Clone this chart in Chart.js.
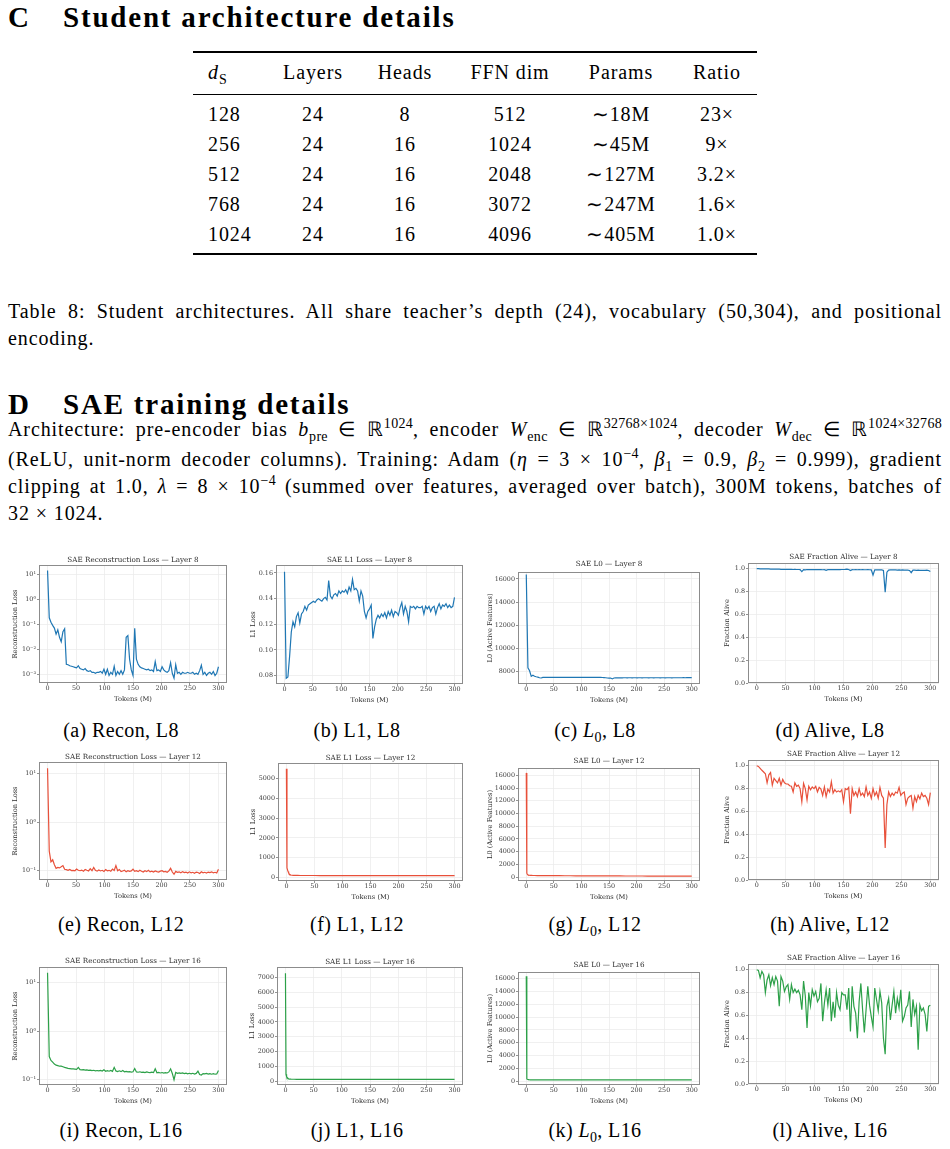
<!DOCTYPE html>
<html>
<head>
<meta charset="utf-8">
<title>SAE training details</title>
<script src="https://cdn.jsdelivr.net/npm/chart.js@4.4.0/dist/chart.umd.min.js"></script>
<style>
  html, body { margin: 0; padding: 0; background: #fff; }
  body { position: relative; width: 950px; height: 1149px; overflow: hidden; font-family: "Liberation Serif", "Times New Roman", serif; color: #000; }
  .abs { position: absolute; white-space: nowrap; }
  .heading { font-weight: bold; font-size: 29px; line-height: 32px; letter-spacing: 1.8px; }
  .txt { font-size: 20px; line-height: 24px; letter-spacing: 0.9px; }
  .line { position: absolute; left: 8px; width: 934px; font-size: 20px; line-height: 24px; letter-spacing: 0.9px; text-align: justify; text-align-last: justify; }
  .line.last { text-align-last: left; }
  .cell { width: 140px; text-align: center; }
  .rule { position: absolute; left: 193px; width: 564px; background: #000; }
  .subcap { width: 220px; text-align: center; letter-spacing: 0.4px; }
  sup, sub { font-size: 70%; line-height: 0; letter-spacing: 0.3px; }
  canvas { position: absolute; }
</style>
</head>
<body>
<div class="abs heading" style="left:8px; top:1px;">C</div>
<div class="abs heading" style="left:63px; top:1px;">Student architecture details</div>

<div class="rule" style="top:51px; height:2px;"></div>
<div class="rule" style="top:94px; height:1px;"></div>
<div class="rule" style="top:253px; height:2px;"></div>
<div id="table"></div>

<div class="line" style="top:299px;">Table 8: Student architectures. All share teacher’s depth (24), vocabulary (50,304), and positional</div>
<div class="line last" style="top:326px;">encoding.</div>

<div class="abs heading" style="left:8px; top:388px;">D</div>
<div class="abs heading" style="left:63px; top:388px;">SAE training details</div>

<div class="line" style="top:417px;">Architecture: pre-encoder bias <i>b</i><sub>pre</sub> ∈ ℝ<sup>1024</sup>, encoder <i>W</i><sub>enc</sub> ∈ ℝ<sup>32768×1024</sup>, decoder <i>W</i><sub>dec</sub> ∈ ℝ<sup>1024×32768</sup></div>
<div class="line" style="top:447px;">(ReLU, unit-norm decoder columns). Training: Adam (<i>η</i> = 3 × 10<sup>−4</sup>, <i>β</i><sub>1</sub> = 0.9, <i>β</i><sub>2</sub> = 0.999), gradient</div>
<div class="line" style="top:474px;">clipping at 1.0, <i>λ</i> = 8 × 10<sup>−4</sup> (summed over features, averaged over batch), 300M tokens, batches of</div>
<div class="line last" style="top:501px;">32 × 1024.</div>

<div id="captions"></div>

<script>
// ---- table 8 ----
const colHead = ["<i>d</i><sub>S</sub>", "Layers", "Heads", "FFN dim", "Params", "Ratio"];
const dS = ["128", "256", "512", "768", "1024"];
const layers = ["24", "24", "24", "24", "24"];
const heads = ["8", "16", "16", "16", "16"];
const ffnDim = ["512", "1024", "2048", "3072", "4096"];
const params = ["∼18M", "∼45M", "∼127M", "∼247M", "∼405M"];
const ratio = ["23×", "9×", "3.2×", "1.6×", "1.0×"];

// ---- training curves (x = tokens seen, in millions) ----
const tokens = [
  0, 3, 6, 9, 12, 15, 18, 21, 24, 27,
  30, 33, 36, 39, 42, 45, 48, 51, 54, 57,
  60, 63, 66, 69, 72, 75, 78, 81, 84, 87,
  90, 93, 96, 99, 102, 105, 108, 111, 114, 117,
  120, 123, 126, 129, 132, 135, 138, 141, 144, 147,
  150, 153, 156, 159, 162, 165, 168, 171, 174, 177,
  180, 183, 186, 189, 192, 195, 198, 201, 204, 207,
  210, 213, 216, 219, 222, 225, 228, 231, 234, 237,
  240, 243, 246, 249, 252, 255, 258, 261, 264, 267,
  270, 273, 276, 279, 282, 285, 288, 291, 294, 297,
  300
];
const tokensSparse = [
  0, 1, 2, 3, 4, 5, 6, 8, 10, 12,
  15, 20, 25, 30, 40, 50, 60, 70, 80, 90,
  100, 110, 120, 130, 140, 150, 160, 170, 180, 190,
  200, 210, 220, 230, 240, 250, 260, 270, 280, 290,
  300
];

const reconL8 = [
  14, 0.18, 0.12, 0.09, 0.07, 0.04, 0.06, 0.03, 0.02, 0.05,
  0.065, 0.0025, 0.0024, 0.0022, 0.0021, 0.002, 0.0019, 0.0018, 0.0022, 0.0017,
  0.0016, 0.0015, 0.0017, 0.0014, 0.0013, 0.0014, 0.0012, 0.0012, 0.0011, 0.0012,
  0.0012, 0.0013, 0.0011, 0.0016, 0.001, 0.0016, 0.0009, 0.0012, 0.001, 0.0021,
  0.0009, 0.0013, 0.001, 0.0014, 0.001, 0.0015, 0.03, 0.035, 0.004, 0.0015,
  0.0009, 0.068, 0.004, 0.0025, 0.002, 0.0018, 0.0017, 0.0016, 0.0015, 0.0016,
  0.0014, 0.0015, 0.0013, 0.0032, 0.0014, 0.0015, 0.0013, 0.002, 0.0015, 0.0013,
  0.0012, 0.0014, 0.0029, 0.0011, 0.0007, 0.0024, 0.0011, 0.0012, 0.001, 0.0012,
  0.0011, 0.0011, 0.0012, 0.0011, 0.0011, 0.0012, 0.001, 0.0011, 0.001, 0.0014,
  0.0023, 0.001, 0.0012, 0.0009, 0.0011, 0.0012, 0.001, 0.0013, 0.0009, 0.0011,
  0.002
];
const l1L8 = [
  0.161, 0.078, 0.079, 0.095, 0.114, 0.122, 0.118, 0.126, 0.129, 0.121,
  0.128, 0.130, 0.134, 0.131, 0.135, 0.136, 0.137, 0.138, 0.137, 0.139,
  0.140, 0.139, 0.138, 0.140, 0.141, 0.139, 0.154, 0.142, 0.140, 0.143,
  0.144, 0.142, 0.146, 0.144, 0.146, 0.145, 0.147, 0.144, 0.149, 0.146,
  0.155, 0.147, 0.148, 0.146, 0.138, 0.146, 0.142, 0.130, 0.125, 0.130,
  0.132, 0.135, 0.109, 0.118, 0.124, 0.127, 0.125, 0.128, 0.126, 0.129,
  0.125, 0.130, 0.127, 0.131, 0.126, 0.130, 0.129, 0.127, 0.133, 0.137,
  0.128, 0.134, 0.130, 0.122, 0.134, 0.133, 0.134, 0.132, 0.134, 0.133,
  0.133, 0.134, 0.128, 0.134, 0.132, 0.134, 0.130, 0.133, 0.134, 0.128,
  0.133, 0.136, 0.132, 0.135, 0.134, 0.136, 0.133, 0.135, 0.133, 0.134,
  0.141
];
const l0L8 = [
  16384, 8300, 8050, 7560, 7660, 7570, 7530, 7500, 7440, 7420,
  7470, 7475, 7470, 7468, 7472, 7470, 7468, 7471, 7470, 7469,
  7470, 7468, 7471, 7470, 7469, 7470, 7468, 7472, 7470, 7469,
  7470, 7471, 7469, 7470, 7468, 7470, 7471, 7469, 7470, 7468,
  7470, 7469, 7470, 7468, 7470, 7467, 7465, 7455, 7440, 7420,
  7410, 7420, 7340, 7420, 7430, 7440, 7436, 7440, 7438, 7441,
  7440, 7438, 7441, 7440, 7438, 7440, 7442, 7439, 7440, 7441,
  7439, 7440, 7442, 7440, 7438, 7440, 7441, 7439, 7440, 7442,
  7440, 7439, 7441, 7440, 7438, 7440, 7442, 7440, 7439, 7441,
  7440, 7442, 7441, 7443, 7442, 7444, 7443, 7445, 7446, 7445,
  7450
];
const aliveL8 = [
  1.0, 1.0, 0.999, 0.999, 0.999, 0.998, 0.998, 0.998, 0.997, 0.997,
  0.997, 0.996, 0.996, 0.996, 0.995, 0.995, 0.995, 0.994, 0.995, 0.994,
  0.994, 0.993, 0.994, 0.993, 0.993, 0.992, 0.975, 0.992, 0.99, 0.993,
  0.992, 0.993, 0.992, 0.993, 0.992, 0.993, 0.992, 0.992, 0.991, 0.992,
  0.986, 0.992, 0.993, 0.992, 0.993, 0.992, 0.993, 0.992, 0.992, 0.993,
  0.993, 0.994, 0.996, 0.993, 0.984, 0.992, 0.991, 0.992, 0.991, 0.992,
  0.991, 0.992, 0.991, 0.991, 0.992, 0.991, 0.99, 0.945, 0.99, 0.99,
  0.991, 0.99, 0.99, 0.985, 0.795, 0.97, 0.988, 0.99, 0.989, 0.99,
  0.989, 0.988, 0.989, 0.988, 0.989, 0.988, 0.987, 0.988, 0.985, 0.965,
  0.987, 0.987, 0.986, 0.987, 0.986, 0.986, 0.985, 0.986, 0.988, 0.984,
  0.975
];

const reconL12 = [
  13, 0.25, 0.15, 0.165, 0.13, 0.11, 0.115, 0.112, 0.118, 0.125,
  0.105, 0.103, 0.1, 0.104, 0.099, 0.1, 0.098, 0.106, 0.1, 0.098,
  0.101, 0.096, 0.104, 0.1, 0.097, 0.108, 0.098, 0.115, 0.1, 0.096,
  0.102, 0.097, 0.1, 0.095, 0.104, 0.098, 0.1, 0.096, 0.106, 0.099,
  0.125, 0.098, 0.104, 0.094, 0.097, 0.1, 0.093, 0.098, 0.095, 0.097,
  0.106, 0.095, 0.098, 0.094, 0.1, 0.096, 0.092, 0.098, 0.094, 0.1,
  0.093, 0.096, 0.092, 0.097, 0.094, 0.092, 0.096, 0.098, 0.093, 0.095,
  0.091, 0.097, 0.11, 0.092, 0.083, 0.095, 0.091, 0.093, 0.089, 0.094,
  0.09, 0.092, 0.088, 0.093, 0.089, 0.091, 0.087, 0.092, 0.09, 0.086,
  0.093, 0.089, 0.091, 0.088, 0.092, 0.09, 0.093, 0.089, 0.091, 0.088,
  0.105
];
const l1L12 = [
  5500, 480, 380, 290, 220, 175, 145, 118, 106, 100,
  97, 95, 94, 93, 92, 92, 91, 91, 90, 90,
  90, 89, 89, 89, 89, 88, 88, 88, 88, 88,
  87, 87, 87, 87, 87, 87, 86, 86, 86, 86,
  86
];
const l0L12 = [
  16384, 620, 430, 360, 325, 305, 292, 280, 272, 266,
  260, 255, 250, 246, 240, 235, 230, 226, 222, 218,
  214, 210, 206, 203, 200, 197, 194, 191, 189, 187,
  185, 183, 181, 179, 177, 175, 174, 173, 172, 171,
  170
];
const aliveL12 = [
  1.0, 0.994, 0.977, 0.96, 0.945, 0.93, 0.85, 0.92, 0.94, 0.83,
  0.89, 0.87, 0.85, 0.89, 0.83, 0.88, 0.85, 0.84, 0.84, 0.825,
  0.82, 0.77, 0.85, 0.82, 0.83, 0.8, 0.685, 0.845, 0.8, 0.7,
  0.82, 0.79, 0.815, 0.8, 0.82, 0.77, 0.81, 0.795, 0.74, 0.815,
  0.73, 0.795, 0.77, 0.86, 0.76, 0.79, 0.77, 0.78, 0.77, 0.79,
  0.685, 0.8, 0.79, 0.81, 0.58, 0.8, 0.74, 0.77, 0.73, 0.8,
  0.74, 0.76, 0.73, 0.815, 0.74, 0.77, 0.715, 0.8, 0.74, 0.77,
  0.715, 0.81, 0.74, 0.715, 0.28, 0.66, 0.77, 0.73, 0.76, 0.74,
  0.77, 0.76, 0.81, 0.74, 0.76, 0.77, 0.66, 0.715, 0.73, 0.74,
  0.63, 0.73, 0.685, 0.74, 0.71, 0.76, 0.73, 0.74, 0.715, 0.66,
  0.765
];

const reconL16 = [
  16, 0.3, 0.25, 0.23, 0.21, 0.2, 0.195, 0.19, 0.19, 0.185,
  0.18, 0.176, 0.172, 0.17, 0.168, 0.168, 0.166, 0.164, 0.18, 0.162,
  0.16, 0.162, 0.158, 0.16, 0.156, 0.158, 0.155, 0.157, 0.153, 0.155,
  0.152, 0.156, 0.151, 0.16, 0.15, 0.154, 0.15, 0.156, 0.149, 0.18,
  0.152, 0.148, 0.153, 0.147, 0.155, 0.146, 0.149, 0.145, 0.147, 0.144,
  0.146, 0.17, 0.145, 0.143, 0.146, 0.142, 0.144, 0.141, 0.145, 0.142,
  0.14, 0.143, 0.14, 0.168, 0.139, 0.142, 0.138, 0.141, 0.137, 0.14,
  0.138, 0.145, 0.168, 0.135, 0.1, 0.142, 0.136, 0.139, 0.135, 0.138,
  0.134, 0.137, 0.133, 0.136, 0.132, 0.136, 0.131, 0.135, 0.15, 0.128,
  0.125, 0.134, 0.132, 0.135, 0.131, 0.134, 0.13, 0.133, 0.13, 0.132,
  0.155
];
const l1L16 = [
  7300, 450, 310, 240, 195, 165, 148, 132, 125, 121,
  118, 116, 115, 115, 114, 114, 114, 113, 113, 113,
  113, 113, 112, 112, 112, 112, 112, 112, 111, 111,
  111, 111, 111, 111, 111, 110, 110, 110, 110, 110,
  110
];
const l0L16 = [
  16384, 360, 290, 255, 238, 228, 222, 216, 212, 210,
  208, 206, 205, 204, 203, 202, 201, 200, 200, 199,
  198, 198, 197, 197, 196, 196, 195, 195, 194, 194,
  193, 193, 192, 192, 191, 191, 190, 190, 190, 189,
  189
];
const aliveL16 = [
  1.0, 0.994, 0.93, 0.985, 0.956, 0.8, 0.91, 0.956, 0.86, 0.93,
  0.87, 0.94, 0.9, 0.68, 0.94, 0.9, 0.81, 0.85, 0.87, 0.74,
  0.87, 0.8, 0.83, 0.8, 0.82, 0.78, 0.65, 0.9, 0.77, 0.49,
  0.8, 0.685, 0.825, 0.77, 0.81, 0.72, 0.75, 0.88, 0.55, 0.71,
  0.825, 0.69, 0.84, 0.55, 0.72, 0.58, 0.8, 0.69, 0.65, 0.8,
  0.78, 0.78, 0.65, 0.84, 0.46, 0.855, 0.68, 0.62, 0.4, 0.72,
  0.88, 0.65, 0.45, 0.65, 0.855, 0.69, 0.59, 0.5, 0.84, 0.74,
  0.64, 0.81, 0.71, 0.4, 0.26, 0.68, 0.75, 0.56, 0.69, 0.81,
  0.62, 0.75, 0.665, 0.825, 0.55, 0.59, 0.665, 0.69, 0.81, 0.5,
  0.74, 0.61, 0.68, 0.3, 0.69, 0.64, 0.665, 0.61, 0.46, 0.68,
  0.69
];

// tick labels
const xTicks = [0, 50, 100, 150, 200, 250, 300];
const ticksLogL8 = [0.001, 0.01, 0.1, 1, 10];
const ticksLog = [0.1, 1, 10];
const ticksL1L8 = [0.08, 0.10, 0.12, 0.14, 0.16];
const ticksL0L8 = [8000, 10000, 12000, 14000, 16000];
const ticksL0 = [0, 2000, 4000, 6000, 8000, 10000, 12000, 14000, 16000];
const ticksL1L12 = [0, 1000, 2000, 3000, 4000, 5000];
const ticksL1L16 = [0, 1000, 2000, 3000, 4000, 5000, 6000, 7000];
const ticksAlive = [0, 0.2, 0.4, 0.6, 0.8, 1.0];

const subCaptions = [
  "(a) Recon, L8", "(b) L1, L8", "(c) <i>L</i><sub>0</sub>, L8", "(d) Alive, L8",
  "(e) Recon, L12", "(f) L1, L12", "(g) <i>L</i><sub>0</sub>, L12", "(h) Alive, L12",
  "(i) Recon, L16", "(j) L1, L16", "(k) <i>L</i><sub>0</sub>, L16", "(l) Alive, L16"
];

const BLUE = "#1f77b4";
const RED = "#e8503a";
const GREEN = "#2ca048";
const CHART_FONT = "'DejaVu Serif', serif";

// one entry per small figure: box = plot area [left, top, right, bottom] on the page
const panels = [
  { title: "SAE Reconstruction Loss — Layer 8", yLabel: "Reconstruction Loss", x: tokens, y: reconL8, color: BLUE, log: true, min: 0.00045, max: 23, ticks: ticksLogL8, fmt: "log", box: [39, 565, 227, 683], yDist: 24, gap: 5 },
  { title: "SAE L1 Loss — Layer 8", yLabel: "L1 Loss", x: tokens, y: l1L8, color: BLUE, min: 0.0735, max: 0.1662, ticks: ticksL1L8, fmt: "f2", box: [276, 565, 463, 684], yDist: 23, gap: 5 },
  { title: "SAE L0 — Layer 8", yLabel: "L0 (Active Features)", x: tokens, y: l0L8, color: BLUE, min: 6900, max: 16600, ticks: ticksL0L8, fmt: "int", box: [518, 572, 700, 684], yDist: 28, gap: 8 },
  { title: "SAE Fraction Alive — Layer 8", yLabel: "Fraction Alive", x: tokens, y: aliveL8, color: BLUE, min: 0, max: 1.05, ticks: ticksAlive, fmt: "f1", box: [748, 563, 939, 683], yDist: 21, gap: 6 },

  { title: "SAE Reconstruction Loss — Layer 12", yLabel: "Reconstruction Loss", x: tokens, y: reconL12, color: RED, log: true, min: 0.063, max: 17.5, ticks: ticksLog, fmt: "log", box: [39, 762, 227, 880], yDist: 24, gap: 5 },
  { title: "SAE L1 Loss — Layer 12", yLabel: "L1 Loss", x: tokensSparse, y: l1L12, color: RED, min: -186, max: 5797, ticks: ticksL1L12, fmt: "int", box: [278, 763, 463, 881], yDist: 25, gap: 5 },
  { title: "SAE L0 — Layer 12", yLabel: "L0 (Active Features)", x: tokensSparse, y: l0L12, color: RED, min: -600, max: 17150, ticks: ticksL0, fmt: "int", box: [518, 768, 700, 881], yDist: 28, gap: 7 },
  { title: "SAE Fraction Alive — Layer 12", yLabel: "Fraction Alive", x: tokens, y: aliveL12, color: RED, min: 0, max: 1.05, ticks: ticksAlive, fmt: "f1", box: [748, 760, 939, 880], yDist: 21, gap: 6 },

  { title: "SAE Reconstruction Loss — Layer 16", yLabel: "Reconstruction Loss", x: tokens, y: reconL16, color: GREEN, log: true, min: 0.078, max: 21, ticks: ticksLog, fmt: "log", box: [39, 967, 227, 1085], yDist: 24, gap: 6 },
  { title: "SAE L1 Loss — Layer 16", yLabel: "L1 Loss", x: tokensSparse, y: l1L16, color: GREEN, min: -270, max: 7720, ticks: ticksL1L16, fmt: "int", box: [277, 967, 463, 1085], yDist: 25, gap: 5 },
  { title: "SAE L0 — Layer 16", yLabel: "L0 (Active Features)", x: tokensSparse, y: l0L16, color: GREEN, min: -600, max: 17050, ticks: ticksL0, fmt: "int", box: [518, 972, 700, 1085], yDist: 28, gap: 7 },
  { title: "SAE Fraction Alive — Layer 16", yLabel: "Fraction Alive", x: tokens, y: aliveL16, color: GREEN, min: 0, max: 1.05, ticks: ticksAlive, fmt: "f1", box: [748, 964, 939, 1084], yDist: 21, gap: 6 }
];

const SUP = { "-": "⁻", "0": "⁰", "1": "¹", "2": "²", "3": "³" };

function formatTick(fmt, v) {
  if (fmt === "log") {
    const e = String(Math.round(Math.log10(v)));
    return "10" + e.split("").map((c) => SUP[c]).join("");
  }
  if (fmt === "f1") return v.toFixed(1);
  if (fmt === "f2") return v.toFixed(2);
  return String(Math.round(v));
}

// matplotlib-like box around the axes
const framePlugin = {
  id: "frame",
  afterDatasetsDraw(chart) {
    const { ctx, chartArea: a } = chart;
    ctx.save();
    ctx.strokeStyle = "#8c8c8c";
    ctx.lineWidth = 1;
    ctx.strokeRect(Math.round(a.left) + 0.5, Math.round(a.top) + 0.5,
      Math.round(a.right - a.left) - 1, Math.round(a.bottom - a.top) - 1);
    ctx.restore();
  }
};

function renderTable() {
  const rowsY = [60, 102, 132, 162, 192, 222];
  const colX = [208, 313, 405, 510, 621, 717];
  const cols = [dS, layers, heads, ffnDim, params, ratio];
  let html = "";
  rowsY.forEach((y, r) => {
    cols.forEach((col, c) => {
      const text = r === 0 ? colHead[c] : col[r - 1];
      if (c === 0) {
        html += `<div class="abs txt" style="left:${colX[c]}px; top:${y}px;">${text}</div>`;
      } else {
        html += `<div class="abs txt cell" style="left:${colX[c] - 70}px; top:${y}px;">${text}</div>`;
      }
    });
  });
  document.getElementById("table").innerHTML = html;
}

function renderCaptions() {
  const capX = [121, 357, 595, 830];
  const capY = [718, 912, 1118];
  let html = "";
  subCaptions.forEach((cap, i) => {
    const x = capX[i % 4];
    const y = capY[Math.floor(i / 4)];
    html += `<div class="abs txt subcap" style="left:${x - 110}px; top:${y}px;">${cap}</div>`;
  });
  document.getElementById("captions").innerHTML = html;
}

function renderPanel(p) {
  const [left, top, right, bottom] = p.box;
  const yW = p.yDist + 5;
  const pb = Math.max(p.gap - 5, 0);
  const titleH = 10 + 1 + pb;
  const xH = 21;
  const rp = 6;

  const canvas = document.createElement("canvas");
  canvas.width = right - left + yW + rp;
  canvas.height = bottom - top + titleH + xH;
  canvas.style.left = left - yW + "px";
  canvas.style.top = top - titleH + "px";
  document.body.appendChild(canvas);

  const points = p.x.map((t, i) => ({ x: t, y: p.y[i] }));
  const tickFont = { family: CHART_FONT, size: 6.4, lineHeight: "7px" };
  const labelFont = { family: CHART_FONT, size: 6.7, lineHeight: "8px" };
  const grid = { color: "#ececec", lineWidth: 0.8, tickLength: 2, tickColor: "#777" };

  new Chart(canvas.getContext("2d"), {
    type: "line",
    data: {
      datasets: [{
        data: points,
        borderColor: p.color,
        borderWidth: 1.2,
        pointRadius: 0,
        tension: 0,
        fill: false
      }]
    },
    options: {
      responsive: false,
      animation: false,
      layout: { padding: { left: 0, top: 0, right: rp, bottom: 0 } },
      plugins: {
        legend: { display: false },
        tooltip: { enabled: false },
        title: {
          display: true,
          text: p.title,
          fullSize: false,
          color: "#2b2b2b",
          font: { family: CHART_FONT, size: 7.2, weight: "normal", lineHeight: "10px" },
          padding: { top: 1, bottom: pb }
        }
      },
      scales: {
        x: {
          type: "linear",
          min: -15,
          max: 315,
          afterBuildTicks: (s) => { s.ticks = xTicks.map((v) => ({ value: v })); },
          afterFit: (s) => { s.height = xH; },
          ticks: { autoSkip: false, maxRotation: 0, padding: 0, color: "#3a3a3a", font: tickFont, callback: (v) => String(v) },
          grid: grid,
          border: { display: false },
          title: { display: true, text: "Tokens (M)", color: "#2b2b2b", font: labelFont, padding: { top: 0, bottom: 1 } }
        },
        y: {
          type: p.log ? "logarithmic" : "linear",
          min: p.min,
          max: p.max,
          afterBuildTicks: (s) => { s.ticks = p.ticks.map((v) => ({ value: v })); },
          afterFit: (s) => { s.width = yW; },
          ticks: { autoSkip: false, padding: 1, color: "#3a3a3a", font: tickFont, callback: (v) => formatTick(p.fmt, v) },
          grid: grid,
          border: { display: false },
          title: { display: true, text: p.yLabel, color: "#2b2b2b", font: labelFont, padding: { top: 1, bottom: 0 } }
        }
      }
    },
    plugins: [framePlugin]
  });
}

renderTable();
renderCaptions();
panels.forEach(renderPanel);
</script>
</body>
</html>
